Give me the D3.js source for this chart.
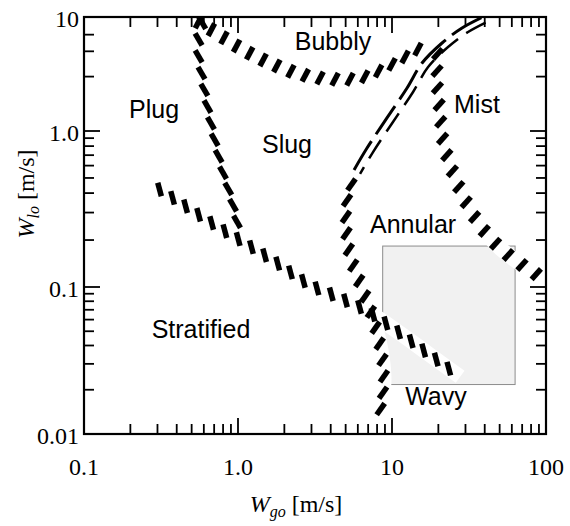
<!DOCTYPE html>
<html lang="en">
<head>
<meta charset="UTF-8">
<title>Flow pattern map</title>
<script src="https://cdn.jsdelivr.net/npm/d3@7"></script>
<style>
body { margin: 0; background: #fff; }
svg { display: block; }
.tick-label { font-family: "Liberation Serif", serif; font-size: 24px; fill: #000; }
.region { font-family: "Liberation Sans", Arial, sans-serif; font-size: 25px; fill: #000; }
.title { font-family: "Liberation Serif", serif; font-size: 24px; fill: #000; }
</style>
</head>
<body>
<svg width="570" height="526"></svg>
<script>
// boundary bands, points as [Wgo, Wlo] in m/s
var plugSlug = [[0.60, 10], [0.55, 5.68], [0.59, 2.80], [0.66, 1.25], [0.79, 0.562], [0.91, 0.361], [1.03, 0.215]];
var bubbly = [[0.526, 9.41], [0.71, 7.39], [1.03, 5.35], [1.61, 3.95], [2.53, 3.16], [3.96, 2.86], [6.2, 2.92], [9.0, 3.57], [13.1, 4.74], [17.6, 6.04]];
var mist = [[19.9, 5.35], [19.6, 2.8], [20.5, 1.44], [21.4, 0.875], [24.5, 0.562], [29.8, 0.361], [38.4, 0.239], [50.2, 0.178], [62.9, 0.149], [78.7, 0.128], [100, 0.111]];
var annularLow = [[8.36, 0.0139], [8.87, 0.0231], [8.49, 0.037], [7.41, 0.0643], [6.2, 0.106], [5.34, 0.16], [5.03, 0.249], [5.18, 0.389], [5.93, 0.546]];
var annularTop = [[5.93, 0.546], [7.2, 0.755], [9.7, 1.25], [13.1, 2.29], [16.4, 3.79], [22.1, 5.68], [29.8, 7.69], [43.3, 10]];
var stratified = [[0.298, 0.432], [0.453, 0.331], [0.71, 0.249], [1.11, 0.191], [1.74, 0.145], [2.94, 0.103], [4.59, 0.0842], [6.88, 0.0686], [11.3, 0.0484], [17.1, 0.0353], [27.7, 0.0245]];

// shaded box of the wavy data
var boxX = [8.7, 63];
var boxY = [0.0217, 0.183];

// region names
var regions = ['Plug', 'Slug', 'Bubbly', 'Mist', 'Annular', 'Stratified', 'Wavy'];
var regionX = [0.285, 2.08, 4.14, 35.6, 13.7, 0.575, 19.3];
var regionY = [1.30, 0.723, 5.14, 1.44, 0.222, 0.0448, 0.0158];

// ticks
var xMajor = [0.1, 1, 10, 100];
var xLabels = ['0.1', '1.0', '10', '100'];
var xMinor = [0.2, 0.3, 0.4, 0.5, 0.6, 0.7, 0.8, 0.9, 2, 3, 4, 5, 6, 7, 8, 9, 20, 30, 40, 50, 60, 70, 80, 90];
var yMajor = [0.01, 0.1, 1, 10];
var yLabels = ['0.01', '0.1', '1.0', '10'];
var yMinor = [0.02, 0.03, 0.04, 0.05, 0.06, 0.07, 0.08, 0.09, 0.2, 0.3, 0.4, 0.5, 0.6, 0.7, 0.8, 0.9, 3, 5, 7];

var L = 84, R = 546, T = 17, B = 434;
var svg = d3.select('svg');

var x = d3.scaleLog().domain([0.1, 100]).range([L, R]);
// the printed axis is not quite even per decade
var y = d3.scaleLog().domain([0.01, 0.1, 1, 10]).range([B, 287, 131, T]);

svg.append('clipPath').attr('id', 'plot')
    .append('rect').attr('x', L).attr('y', T).attr('width', R - L).attr('height', B - T);

var plot = svg.append('g').attr('clip-path', 'url(#plot)');

plot.append('rect')
    .attr('x', x(boxX[0])).attr('y', y(boxY[1]))
    .attr('width', x(boxX[1]) - x(boxX[0]))
    .attr('height', y(boxY[0]) - y(boxY[1]))
    .attr('fill', '#f1f1f1')
    .attr('stroke', '#8c8c8c')
    .attr('stroke-width', 1);

var line = d3.line()
    .x(function(d) { return x(d[0]); })
    .y(function(d) { return y(d[1]); })
    .curve(d3.curveCatmullRom.alpha(0.5));

var bands = [
    { pts: plugSlug, angle: 60, step: 17, len: 14, w: 5.5, start: 6 },
    { pts: bubbly, angle: -62, step: 15, len: 14, w: 5.5, start: 4 },
    { pts: mist, angle: -48, step: 17, len: 14, w: 5.5, start: 6 },
    { pts: annularLow, angle: -55, step: 16.5, len: 14, w: 5.5, start: 4 },
    { pts: stratified, angle: 75, step: 15.5, len: 14, w: 5.5, start: 3 }
];

var under = plot.append('g');
var marks = plot.append('g');

bands.forEach(function(b) {
    under.append('path')
        .attr('d', line(b.pts))
        .attr('fill', 'none')
        .attr('stroke', '#fff')
        .attr('stroke-width', 15);
});
under.append('path')
    .attr('d', line(annularTop))
    .attr('fill', 'none')
    .attr('stroke', '#fff')
    .attr('stroke-width', 11);

bands.forEach(function(b) {
    var p = marks.append('path').attr('d', line(b.pts)).attr('fill', 'none');
    var node = p.node();
    var len = node.getTotalLength();
    var a = b.angle * Math.PI / 180;
    var dx = Math.cos(a) * b.len / 2, dy = Math.sin(a) * b.len / 2;
    for (var s = b.start; s <= len; s += b.step) {
        var pt = node.getPointAtLength(s);
        marks.append('line')
            .attr('x1', pt.x - dx).attr('y1', pt.y - dy)
            .attr('x2', pt.x + dx).attr('y2', pt.y + dy)
            .attr('stroke', '#000')
            .attr('stroke-width', b.w);
    }
    p.remove();
});

// upper part of the annular boundary is drawn as thin streaks
marks.append('path')
    .attr('d', line(annularTop))
    .attr('transform', 'translate(-3,-2)')
    .attr('fill', 'none')
    .attr('stroke', '#000')
    .attr('stroke-width', 3)
    .attr('stroke-dasharray', '34 8');
marks.append('path')
    .attr('d', line(annularTop))
    .attr('transform', 'translate(3,2)')
    .attr('fill', 'none')
    .attr('stroke', '#000')
    .attr('stroke-width', 2.5)
    .attr('stroke-dasharray', '22 10')
    .attr('stroke-dashoffset', 14);

// frame
svg.append('rect')
    .attr('x', L).attr('y', T).attr('width', R - L).attr('height', B - T)
    .attr('fill', 'none').attr('stroke', '#000').attr('stroke-width', 2.2);

var ticks = svg.append('g').attr('stroke', '#000').attr('stroke-width', 1.8);

function xTick(v, size) {
    ticks.append('line').attr('x1', x(v)).attr('x2', x(v)).attr('y1', B).attr('y2', B - size);
    ticks.append('line').attr('x1', x(v)).attr('x2', x(v)).attr('y1', T).attr('y2', T + size);
}
function yTick(v, size) {
    ticks.append('line').attr('y1', y(v)).attr('y2', y(v)).attr('x1', L).attr('x2', L + size);
    ticks.append('line').attr('y1', y(v)).attr('y2', y(v)).attr('x1', R).attr('x2', R - size);
}
xMinor.forEach(function(v) { xTick(v, 10); });
xMajor.slice(1, 3).forEach(function(v) { xTick(v, 16); });
yMinor.forEach(function(v) { yTick(v, 10); });
yMajor.slice(1, 3).forEach(function(v) { yTick(v, 16); });

svg.selectAll('.xl')
    .data(xMajor)
    .enter()
    .append('text')
    .attr('class', 'tick-label')
    .attr('x', function(d) { return x(d); })
    .attr('y', 475)
    .attr('text-anchor', 'middle')
    .text(function(d, i) { return xLabels[i]; });

svg.selectAll('.yl')
    .data(yMajor)
    .enter()
    .append('text')
    .attr('class', 'tick-label')
    .attr('x', 79)
    .attr('y', function(d) { return y(d) + 10; })
    .attr('text-anchor', 'end')
    .text(function(d, i) { return yLabels[i]; });

svg.selectAll('.region')
    .data(regions)
    .enter()
    .append('text')
    .attr('class', 'region')
    .attr('x', function(d, i) { return x(regionX[i]); })
    .attr('y', function(d, i) { return y(regionY[i]); })
    .attr('text-anchor', 'middle')
    .text(function(d) { return d; });

// axis titles
var xt = svg.append('text').attr('class', 'title').attr('x', 296).attr('y', 512).attr('text-anchor', 'middle');
xt.append('tspan').attr('font-style', 'italic').text('W');
xt.append('tspan').attr('font-style', 'italic').attr('font-size', 16).attr('dy', 5).text('go');
xt.append('tspan').attr('dy', -5).text(' [m/s]');

var yt = svg.append('text').attr('class', 'title')
    .attr('transform', 'translate(34,194) rotate(-90)')
    .attr('text-anchor', 'middle');
yt.append('tspan').attr('font-style', 'italic').text('W');
yt.append('tspan').attr('font-style', 'italic').attr('font-size', 16).attr('dy', 5).text('lo');
yt.append('tspan').attr('dy', -5).text(' [m/s]');
</script>
</body>
</html>
